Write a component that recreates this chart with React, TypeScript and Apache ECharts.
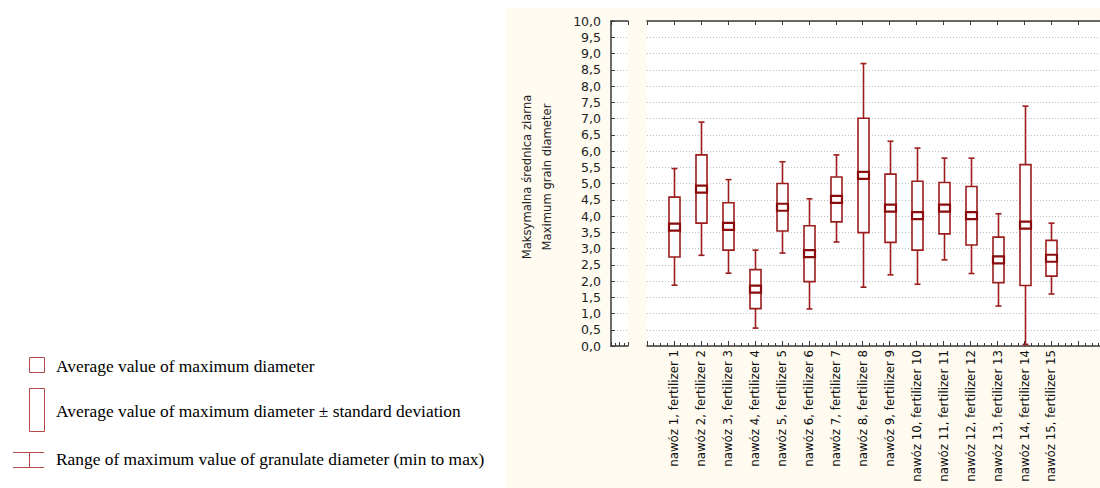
import React, { useEffect, useRef } from "react";
import * as echarts from "echarts";

const categories = [
  "nawóz 1, fertilizer 1",
  "nawóz 2, fertilizer 2",
  "nawóz 3, fertilizer 3",
  "nawóz 4, fertilizer 4",
  "nawóz 5, fertilizer 5",
  "nawóz 6, fertilizer 6",
  "nawóz 7, fertilizer 7",
  "nawóz 8, fertilizer 8",
  "nawóz 9, fertilizer 9",
  "nawóz 10, fertilizer 10",
  "nawóz 11, fertilizer 11",
  "nawóz 12, fertilizer 12",
  "nawóz 13, fertilizer 13",
  "nawóz 14, fertilizer 14",
  "nawóz 15, fertilizer 15",
];
const means = [3.66, 4.83, 3.68, 1.75, 4.27, 2.84, 4.51, 5.25, 4.24, 4.01, 4.24, 4.01, 2.65, 3.72, 2.70];
const stdDevs = [0.92, 1.05, 0.73, 0.60, 0.73, 0.86, 0.69, 1.76, 1.05, 1.06, 0.79, 0.90, 0.70, 1.86, 0.55];
const mins = [1.87, 2.79, 2.24, 0.55, 2.86, 1.14, 3.20, 1.81, 2.19, 1.90, 2.65, 2.23, 1.23, 0.05, 1.60];
const maxs = [5.46, 6.89, 5.12, 2.95, 5.67, 4.53, 5.88, 8.69, 6.30, 6.09, 5.78, 5.78, 4.07, 7.38, 3.78];

const yAxisTitle = ["Maksymalna średnica ziarna", "Maximum grain diameter"];
const legendTexts = [
  "Average value of maximum diameter",
  "Average value of maximum diameter ± standard deviation",
  "Range of maximum value of granulate diameter (min to max)",
];

const BOX_COLOR = "#9b1d1d";
const MEAN_COLOR = "#8a0c0c";
const LEGEND_COLOR = "#b34848";
const AXIS_COLOR = "#3a3a3a";
const LABEL_FONT = "DejaVu Sans";

const fmtY = (v: number) => v.toFixed(1).replace(".", ",");

export default function App() {
  const ref = useRef<HTMLDivElement>(null);
  useEffect(() => {
    if (!ref.current) return;
    const chart = echarts.init(ref.current, undefined, { renderer: "svg" });
    const data = categories.map((_, i) => [
      i + 1,
      mins[i],
      means[i] - stdDevs[i],
      means[i],
      means[i] + stdDevs[i],
      maxs[i],
    ]);
    const splitLine = {
      show: true,
      lineStyle: { color: "#bdbdbd", type: [1, 2] as any, width: 1 },
    };
    const option: any = {
      animation: false,
      grid: [
        { left: 611, top: 21, width: 17, bottom: 142, show: true, backgroundColor: "#ffffff", borderWidth: 0 },
        { left: 647, top: 21, right: 0, bottom: 142, show: true, backgroundColor: "#ffffff", borderWidth: 0 },
      ],
      xAxis: [
        {
          gridIndex: 0, type: "value", min: 0, max: 1, interval: 0.5,
          axisLine: { show: true, lineStyle: { color: AXIS_COLOR, width: 1.5 } },
          axisTick: { show: true, inside: true, length: 4, lineStyle: { color: AXIS_COLOR } },
          minorTick: { show: true, splitNumber: 2, length: 3, lineStyle: { color: AXIS_COLOR } },
          axisLabel: { show: false }, splitLine: { show: false },
        },
        {
          gridIndex: 0, type: "value", position: "top", min: 0, max: 1, interval: 1,
          axisLine: { show: true, lineStyle: { color: AXIS_COLOR, width: 1.5 } },
          axisTick: { show: true, inside: true, length: 4, lineStyle: { color: AXIS_COLOR } },
          axisLabel: { show: false }, splitLine: { show: false },
        },
        {
          gridIndex: 1, type: "value", min: 0, max: 16.8, interval: 1,
          axisLine: { show: true, lineStyle: { color: AXIS_COLOR, width: 1.5 } },
          axisTick: { show: true, inside: true, length: 5, lineStyle: { color: AXIS_COLOR } },
          minorTick: { show: true, splitNumber: 4, length: 3, lineStyle: { color: AXIS_COLOR } },
          splitLine: { show: false },
          axisLabel: {
            rotate: 90,
            margin: 4,
            fontFamily: LABEL_FONT,
            fontSize: 11.8,
            color: "#111",
            formatter: (v: number) =>
              Number.isInteger(v) && v >= 1 && v <= categories.length ? categories[v - 1] : "",
          },
        },
        {
          gridIndex: 1, type: "value", position: "top", min: 0, max: 16.8, interval: 1,
          axisLine: { show: true, lineStyle: { color: AXIS_COLOR, width: 1.5 } },
          axisTick: { show: true, inside: true, length: 4, lineStyle: { color: AXIS_COLOR } },
          axisLabel: { show: false }, splitLine: { show: false },
        },
      ],
      yAxis: [
        {
          gridIndex: 0, type: "value", min: 0, max: 10, interval: 0.5,
          axisLine: { show: true, lineStyle: { color: AXIS_COLOR, width: 1.5 } },
          axisTick: { show: true, inside: true, length: 4, lineStyle: { color: AXIS_COLOR } },
          axisLabel: { margin: 10, fontFamily: LABEL_FONT, fontSize: 12.5, color: "#222", formatter: fmtY },
          splitLine,
        },
        {
          gridIndex: 1, type: "value", min: 0, max: 10, interval: 0.5,
          axisLine: { show: false }, axisTick: { show: false }, axisLabel: { show: false },
          splitLine,
        },
      ],
      graphic: [
        {
          type: "text", x: 527, y: 177, rotation: Math.PI / 2,
          style: { text: yAxisTitle[0], fontFamily: LABEL_FONT, fontSize: 11.6, fill: "#222", align: "center", verticalAlign: "middle" },
        },
        {
          type: "text", x: 547, y: 177, rotation: Math.PI / 2,
          style: { text: yAxisTitle[1], fontFamily: LABEL_FONT, fontSize: 11.6, fill: "#222", align: "center", verticalAlign: "middle" },
        },
        { type: "rect", shape: { x: 29.5, y: 357.5, width: 15, height: 15 }, style: { fill: "none", stroke: LEGEND_COLOR, lineWidth: 1 } },
        { type: "rect", shape: { x: 29.5, y: 388.5, width: 15, height: 43 }, style: { fill: "none", stroke: LEGEND_COLOR, lineWidth: 1 } },
        { type: "line", shape: { x1: 13, y1: 452.5, x2: 44, y2: 452.5 }, style: { stroke: LEGEND_COLOR, lineWidth: 1 } },
        { type: "line", shape: { x1: 13, y1: 467.5, x2: 44, y2: 467.5 }, style: { stroke: LEGEND_COLOR, lineWidth: 1 } },
        { type: "line", shape: { x1: 29.5, y1: 452.5, x2: 29.5, y2: 467.5 }, style: { stroke: LEGEND_COLOR, lineWidth: 1 } },
        {
          type: "text", x: 56, y: 366,
          style: { text: legendTexts[0], fontFamily: "Liberation Serif", fontSize: 17.4, fill: "#000", verticalAlign: "middle" },
        },
        {
          type: "text", x: 56, y: 411,
          style: { text: legendTexts[1], fontFamily: "Liberation Serif", fontSize: 17.4, fill: "#000", verticalAlign: "middle" },
        },
        {
          type: "text", x: 56, y: 459,
          style: { text: legendTexts[2], fontFamily: "Liberation Serif", fontSize: 17.4, fill: "#000", verticalAlign: "middle" },
        },
      ],
      series: [
        {
          type: "custom",
          xAxisIndex: 2,
          yAxisIndex: 1,
          data,
          clip: false,
          renderItem: (params: any, api: any) => {
            const x = api.value(0);
            const pLo = api.coord([x, api.value(1)]);
            const pQ1 = api.coord([x, api.value(2)]);
            const pM = api.coord([x, api.value(3)]);
            const pQ3 = api.coord([x, api.value(4)]);
            const pHi = api.coord([x, api.value(5)]);
            const cx = Math.round(pM[0]) + 0.5;
            const hw = 5.5;
            const cap = 3;
            const ls = { stroke: BOX_COLOR, lineWidth: 1.6 };
            return {
              type: "group",
              children: [
                { type: "line", shape: { x1: cx, y1: pHi[1], x2: cx, y2: pQ3[1] }, style: ls },
                { type: "line", shape: { x1: cx, y1: pQ1[1], x2: cx, y2: pLo[1] }, style: ls },
                { type: "line", shape: { x1: cx - cap, y1: pHi[1], x2: cx + cap, y2: pHi[1] }, style: ls },
                { type: "line", shape: { x1: cx - cap, y1: pLo[1], x2: cx + cap, y2: pLo[1] }, style: ls },
                {
                  type: "rect",
                  shape: { x: cx - hw, y: pQ3[1], width: hw * 2, height: pQ1[1] - pQ3[1] },
                  style: { fill: "#ffffff", stroke: BOX_COLOR, lineWidth: 1.6 },
                },
                {
                  type: "rect",
                  shape: { x: cx - hw, y: pM[1] - 3.5, width: hw * 2, height: 7 },
                  style: { fill: "#ffffff", stroke: MEAN_COLOR, lineWidth: 2.2 },
                },
              ],
            };
          },
        },
      ],
    };
    chart.setOption(option);
    return () => chart.dispose();
  }, []);
  return (
    <div style={{ position: "fixed", left: 0, top: 0, width: 1100, height: 488, background: "#ffffff" }}>
      <div style={{ position: "absolute", left: 505, top: 8, width: 595, height: 480, background: "#fffbf0" }} />
      <div ref={ref} style={{ position: "absolute", left: 0, top: 0, width: 1100, height: 488 }} />
    </div>
  );
}
